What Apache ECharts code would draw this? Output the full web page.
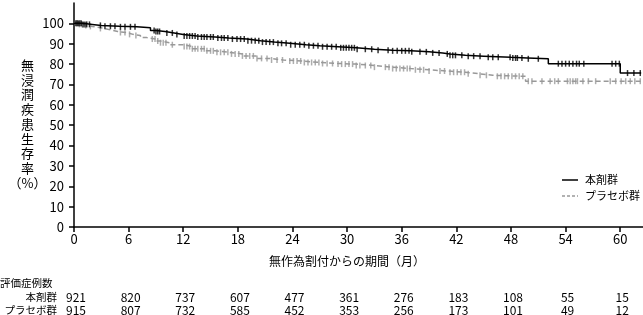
<!DOCTYPE html>
<html><head><meta charset="utf-8">
<script src="https://cdn.jsdelivr.net/npm/echarts@6/dist/echarts.min.js"></script>
<style>html,body{margin:0;padding:0;background:#fff}#c{width:643px;height:315px}</style>
</head><body><div id="c"></div>
<script>
const FONT = '"Noto Sans CJK JP", "Noto Sans", sans-serif';
const groupNames = ['本剤群', 'プラセボ群'];
const xTicks = [0, 6, 12, 18, 24, 30, 36, 42, 48, 54, 60];
const yTicks = [0, 10, 20, 30, 40, 50, 60, 70, 80, 90, 100];
const xName = '無作為割付からの期間（月）';
const yNameChars = ['無', '浸', '潤', '疾', '患', '生', '存', '率', '（%）'];
const tableTitle = '評価症例数';

const drugTimes = [0,1,2,3,5,6.9,8.4,9,10,11,12,13.5,15.5,17,19,20.5,22,23.7,25.5,27,29,31,33,35,37,39,40.5,41.3,43,45,48,49.8,52.1,60,62.3];
const drugSurv  = [100,99.5,99,98.6,98.3,97.8,96.5,96,95.3,94.5,93.8,93.3,92.8,92.3,91.5,90.8,90.2,89.5,89,88.5,88,87.3,86.8,86.5,86,85.5,85,84.3,83.9,83.3,83,82.6,80.2,75.6,75.6];
const placTimes = [0,0.5,1,1.5,2,2.8,3.3,4,4.8,5.8,6.5,7.3,8,9,9.5,10.5,12,13,14.5,15.5,17,18.5,20,21.5,23,25,27,29,31,33,35,37,39,41,43,44.6,46,49.6,62.5];
const placSurv  = [100,99.5,99,98.5,98,97.5,96.8,96,95.5,94.6,94,93,92.3,91.3,90.5,89.5,88.6,87.5,86.5,85.8,85,84,82.8,82,81.5,80.8,80.3,80,79.3,78.5,77.8,77.2,76.6,76,75.2,74.5,74,71.6,71.6];

const drugCensor = [0.2,0.35,0.5,0.65,0.8,1.0,1.2,1.4,1.7,2.9,3.4,4.0,4.5,5.1,5.6,6.2,6.7,8.8,9.0,9.2,9.4,10.2,10.8,11.3,12.1,12.4,12.7,13.0,13.3,13.6,14.0,14.3,14.6,15.0,15.3,15.8,16.2,16.5,16.9,17.4,17.9,18.3,18.7,19.1,19.5,19.9,20.3,20.7,21.1,21.5,21.9,22.4,22.8,23.3,23.8,24.3,24.8,25.3,25.8,26.3,26.8,27.3,27.8,28.3,28.8,29.3,29.6,29.9,30.2,30.5,30.8,31.1,32.0,32.7,33.4,34.5,35.0,35.5,36.0,36.4,36.8,37.1,38.0,38.7,39.4,40.1,41.0,41.3,41.6,41.9,42.6,43.3,43.9,44.6,45.5,46.0,46.6,47.9,48.2,48.5,48.7,49.2,49.9,51.0,53.2,53.6,54.0,54.4,54.8,55.2,55.5,56.0,59.1,59.5,59.9,60.8,61.5,62.2];
const placCensor = [0.3,0.6,0.9,1.3,1.8,2.9,5.1,5.6,6.1,6.8,8.6,8.9,9.2,9.5,9.8,10.1,10.8,12.1,12.4,12.7,13.0,13.3,13.6,14.0,14.3,14.6,15.0,15.3,15.7,16.1,16.5,16.9,17.3,17.7,18.1,18.5,18.9,19.3,19.7,20.1,20.6,21.2,21.7,22.3,22.9,23.7,24.1,24.5,24.9,25.3,25.7,26.1,26.5,26.9,27.3,27.8,28.4,29.0,29.4,29.8,30.2,30.6,31.0,31.4,32.0,32.6,33.0,34.2,34.6,35.0,35.4,35.8,36.2,36.6,36.9,37.5,38.0,38.4,39.0,40.2,40.7,41.3,41.7,42.1,42.5,42.9,43.3,44.6,45.3,46.5,46.9,47.3,47.7,48.1,48.5,48.9,49.3,49.9,50.3,51.4,52.3,52.8,53.2,54.2,54.5,54.8,55.1,55.3,55.9,56.5,57.3,58.9,59.5,60.1,60.6,61.1,61.6,62.2];

const riskTimes = [0, 6, 12, 18, 24, 30, 36, 42, 48, 54, 60];
const riskDrug = [921, 820, 737, 607, 477, 361, 276, 183, 108, 55, 15];
const riskPlac = [915, 807, 732, 585, 452, 353, 256, 173, 101, 49, 12];

function survAt(times, vals, t) {
  let v = vals[0];
  for (let i = 0; i < times.length; i++) { if (times[i] <= t) v = vals[i]; else break; }
  return v;
}
function pairs(a, b) { return a.map((t, i) => [t, b[i]]); }

const chart = echarts.init(document.getElementById('c'), null, {renderer: 'canvas'});
const axisCommon = {
  axisLine: {show: true, lineStyle: {color: '#000', width: 1.5}},
  splitLine: {show: false},
};
chart.setOption({
  animation: false,
  backgroundColor: '#fff',
  textStyle: {fontFamily: FONT},
  grid: {left: 74, right: 0, top: 3, bottom: 88, containLabel: false},
  xAxis: Object.assign({}, axisCommon, {
    type: 'value', min: 0, max: 62.5, interval: 6,
    axisTick: {show: true, length: 5, lineStyle: {color: '#000', width: 1.5}, customValues: xTicks},
    axisLabel: {customValues: xTicks, color: '#000', fontSize: 13, margin: 6, fontFamily: FONT,
      formatter: v => (xTicks.indexOf(v) >= 0 ? String(v) : '')},
  }),
  yAxis: Object.assign({}, axisCommon, {
    type: 'value', min: 0, max: 110, interval: 10,
    axisTick: {show: true, length: 5, lineStyle: {color: '#000', width: 1.5}, customValues: yTicks},
    axisLabel: {customValues: yTicks, color: '#000', fontSize: 13, margin: 10, fontFamily: FONT,
      formatter: v => (yTicks.indexOf(v) >= 0 ? String(v) : '')},
  }),
  series: [
    {name: groupNames[0], type: 'line', step: 'end', symbol: 'none', data: pairs(drugTimes, drugSurv),
      lineStyle: {color: '#000', width: 1.5}, itemStyle: {color: '#000'}, z: 3},
    {name: groupNames[1], type: 'line', step: 'end', symbol: 'none', data: pairs(placTimes, placSurv),
      lineStyle: {color: '#999', width: 1.5, type: [5, 3]}, itemStyle: {color: '#999'}, z: 2},
    {name: 'c0', type: 'scatter', symbol: 'rect', symbolSize: [1.5, 6], silent: true, z: 3,
      itemStyle: {color: '#000'}, data: drugCensor.map(t => [t, survAt(drugTimes, drugSurv, t)])},
    {name: 'c1', type: 'scatter', symbol: 'rect', symbolSize: [1.5, 6], silent: true, z: 2,
      itemStyle: {color: '#999'}, data: placCensor.map(t => [t, survAt(placTimes, placSurv, t)])},
  ]
});

const g = [];
g.push({type: 'text', x: 27.5, y: 124, style: {text: yNameChars.join('\n'), font: '13px ' + FONT,
  fill: '#000', align: 'center', verticalAlign: 'middle', lineHeight: 14.75}});
const xMid = (chart.convertToPixel({xAxisIndex: 0}, 0) + chart.convertToPixel({xAxisIndex: 0}, 60)) / 2;
g.push({type: 'text', x: xMid, y: 261, style: {text: xName, font: '12px ' + FONT, fill: '#000', align: 'center', verticalAlign: 'middle'}});
// legend
g.push({type: 'line', shape: {x1: 562, y1: 180, x2: 578, y2: 180}, style: {stroke: '#000', lineWidth: 1.5}});
g.push({type: 'line', shape: {x1: 562, y1: 196, x2: 578, y2: 196}, style: {stroke: '#999', lineWidth: 1.5, lineDash: [3, 2]}});
g.push({type: 'text', x: 585, y: 180, style: {text: groupNames[0], font: '11px ' + FONT, fill: '#000', align: 'left', verticalAlign: 'middle'}});
g.push({type: 'text', x: 585, y: 196, style: {text: groupNames[1], font: '11px ' + FONT, fill: '#000', align: 'left', verticalAlign: 'middle'}});
// table
g.push({type: 'text', x: 0, y: 283, style: {text: tableTitle, font: '10.5px ' + FONT, fill: '#000', align: 'left', verticalAlign: 'middle'}});
g.push({type: 'text', x: 57, y: 297, style: {text: groupNames[0], font: '10.5px ' + FONT, fill: '#000', align: 'right', verticalAlign: 'middle'}});
g.push({type: 'text', x: 57, y: 310, style: {text: groupNames[1], font: '10.5px ' + FONT, fill: '#000', align: 'right', verticalAlign: 'middle'}});
riskTimes.forEach((t, i) => {
  const px = chart.convertToPixel({xAxisIndex: 0}, t) + 2;
  g.push({type: 'text', x: px, y: 297, style: {text: String(riskDrug[i]), font: '12px ' + FONT, fill: '#000', align: 'center', verticalAlign: 'middle'}});
  g.push({type: 'text', x: px, y: 310, style: {text: String(riskPlac[i]), font: '12px ' + FONT, fill: '#000', align: 'center', verticalAlign: 'middle'}});
});
chart.setOption({graphic: g});
</script>
</body></html>
